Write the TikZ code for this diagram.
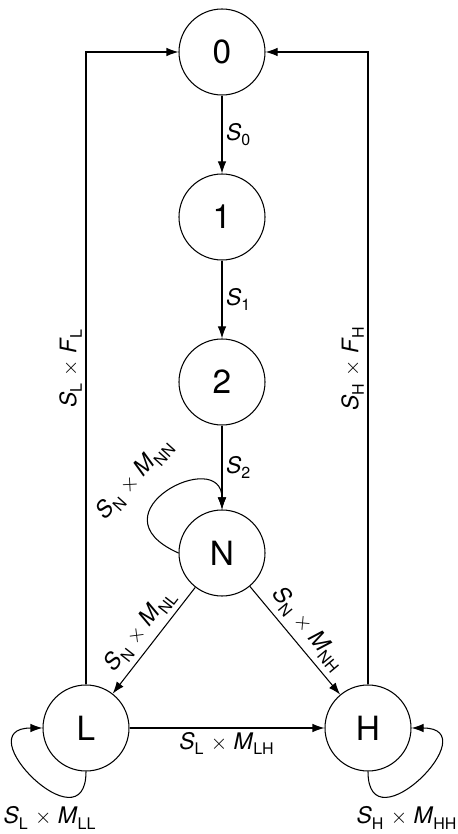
\documentclass[tikz,border=0pt]{standalone}
\usepackage{fontspec}
\setmainfont{TeX Gyre Heros}
\usetikzlibrary{arrows.meta}

\newcommand{\rate}[2]{\textit{#1}\textsubscript{\raisebox{-0.3ex}{#2}}}

\begin{document}
\begin{tikzpicture}[
    >={Latex[length=2.4mm,width=1.7mm]},
    stage/.style={circle,draw,line width=0.6pt,minimum size=1.72cm,inner sep=0pt,font=\fontsize{19}{21}\selectfont},
    lbl/.style={font=\fontsize{13}{15}\selectfont,inner sep=2pt},
    flow/.style={->,line width=0.6pt}
]

% === Picture frame ===
\useasboundingbox (0,0) rectangle (9.16,16.68);

% === Stages ===
\node[stage] (s0) at (4.44,15.64) {0};
\node[stage] (s1) at (4.44,12.34) {1};
\node[stage] (s2) at (4.44,9.04) {2};
\node[stage] (N) at (4.44,5.62) {N};
\node[stage] (L) at (1.72,2.12) {L};
\node[stage] (H) at (7.36,2.12) {H};

% === Main chain 0 -> 1 -> 2 -> N ===
\draw[flow] (s0) -- node[lbl,right] {\rate{S}{0}} (s1);
\draw[flow] (s1) -- node[lbl,right] {\rate{S}{1}} (s2);
\draw[flow] (s2) -- node[lbl,right] {\rate{S}{2}} (N);

% === Branches from N ===
\draw[flow] (N) -- node[lbl,sloped,above,inner sep=3pt] {\rate{S}{N} $\times$ \rate{M}{NL}} (L);
\draw[flow] (N) -- node[lbl,sloped,above,inner sep=3pt] {\rate{S}{N} $\times$ \rate{M}{NH}} (H);
\draw[flow] (L) -- node[lbl,below] {\rate{S}{L} $\times$ \rate{M}{LH}} (H);

% === Return to 0 ===
\draw[flow] (L.north) |- node[lbl,pos=0.25,sloped,above] {\rate{S}{L} $\times$ \rate{F}{L}} (s0.west);
\draw[flow] (H.north) |- node[lbl,pos=0.25,sloped,above] {\rate{S}{H} $\times$ \rate{F}{H}} (s0.east);

% === Self loops ===
\draw[flow] (N.west) .. controls +(-1.8,0.8) and +(0,1.28) .. (N.north);
\node[lbl,rotate=48] (lNN) at (2.7,7.1) {\rate{S}{N} $\times$ \rate{M}{NN}};

\draw[flow] (L.south) .. controls +(0,-1.55) and +(-1.55,0) .. (L.west);
\node[lbl] (lLL) at (1.0,0.32) {\rate{S}{L} $\times$ \rate{M}{LL}};

\draw[flow] (H.south) .. controls +(0,-1.55) and +(1.55,0) .. (H.east);
\node[lbl] (lHH) at (8.14,0.32) {\rate{S}{H} $\times$ \rate{M}{HH}};

\end{tikzpicture}
\end{document}
